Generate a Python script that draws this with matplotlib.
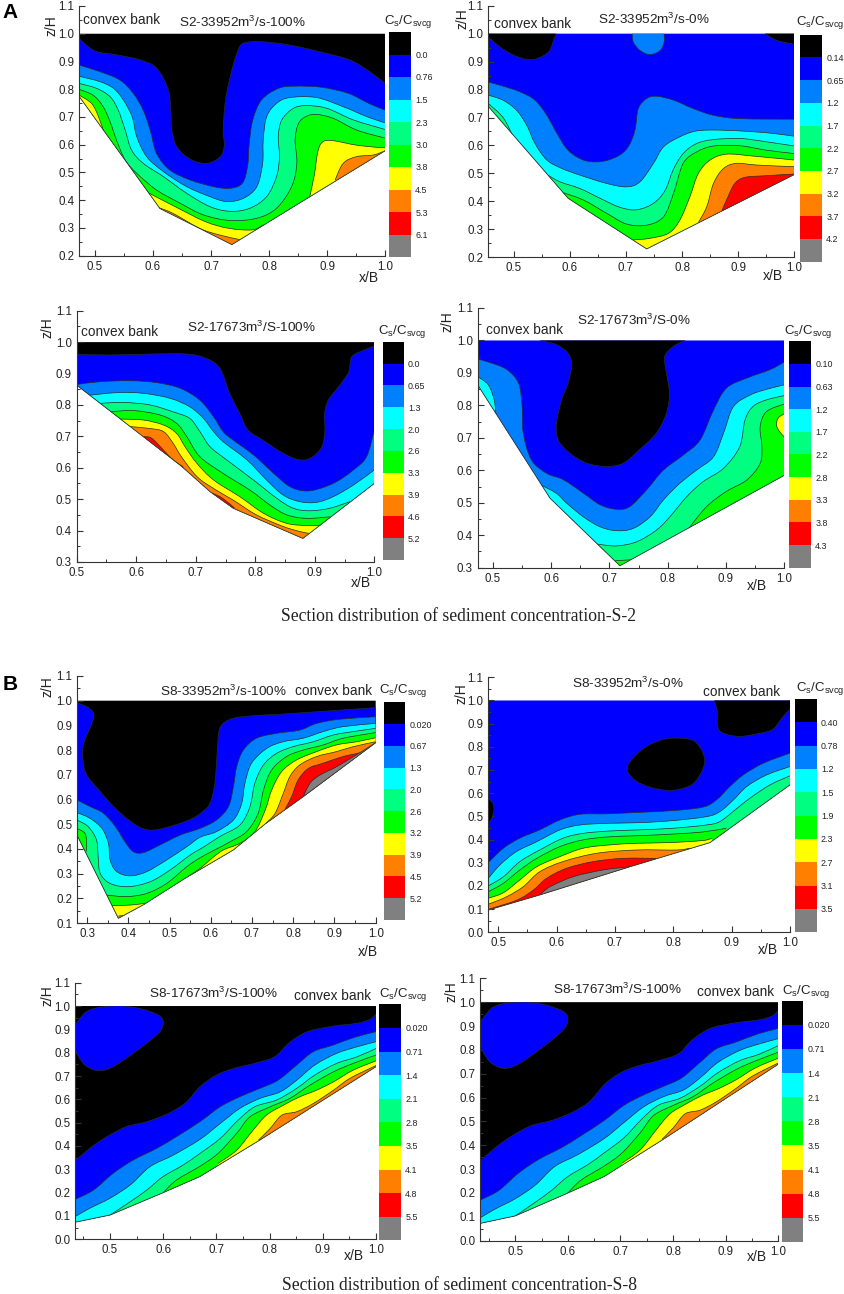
import matplotlib
matplotlib.use('Agg')
import matplotlib.pyplot as plt
from matplotlib.path import Path
from matplotlib.patches import PathPatch, Polygon
from matplotlib.ticker import MultipleLocator, FormatStrFormatter

plt.rcParams['font.family'] = ['Liberation Sans', 'DejaVu Sans']
plt.rcParams['mathtext.fontset'] = 'custom'
plt.rcParams['mathtext.rm'] = 'Liberation Sans'
plt.rcParams['mathtext.default'] = 'regular'

W, H = 844, 1294
level_colors = ['#000000', '#0000ff', '#0080ff', '#00ffff', '#00ff80',
                '#00ff00', '#ffff00', '#ff8000', '#ff0000', '#808080']

# each contour: (index of the level it bounds, side that gets filled, points in x/B, z/H)

# S2 33952 100%
a1_bed = [(.4724, .775), (.612, .37), (.736, .24), (.87, .412), (1.0, .578)]
a1_labels = ['0.0', '0.76', '1.5', '2.3', '3.0', '3.8', '4.5', '5.3', '6.1']
a1_contours = [
    (1, 'below', [(.4724, .983), (.50, .938), (.5374, .924), (.5776, .906), (.6063, .876), (.6264, .798), (.631, .714), (.632, .659), (.641, .593), (.664, .548), (.693, .533), (.716, .557), (.723, .599), (.721, .653), (.725, .76), (.736, .869), (.748, .947), (.759, .968), (.79, .971), (.836, .959), (.888, .935), (.94, .905), (.974, .863), (1.0, .821)]),
    (2, 'below', [(.4724, .887), (.509, .863), (.543, .833), (.566, .785), (.583, .725), (.595, .653), (.606, .569), (.629, .509), (.664, .473), (.704, .449), (.733, .443), (.754, .461), (.763, .521), (.766, .605), (.772, .689), (.787, .761), (.816, .803), (.845, .811), (.891, .807), (.937, .785), (.972, .749), (1.0, .725)]),
    (3, 'below', [(.4724, .847), (.509, .827), (.532, .803), (.549, .761), (.564, .701), (.572, .629), (.589, .557), (.618, .503), (.658, .449), (.698, .413), (.727, .395), (.756, .407), (.779, .449), (.789, .533), (.790, .617), (.796, .701), (.813, .749), (.836, .770), (.882, .770), (.928, .737), (.969, .701), (1.0, .679)]),
    (4, 'below', [(.4724, .821), (.503, .803), (.526, .773), (.54, .725), (.552, .653), (.563, .581), (.583, .533), (.618, .485), (.658, .425), (.698, .377), (.733, .360), (.767, .371), (.796, .413), (.813, .485), (.818, .557), (.816, .629), (.822, .689), (.842, .731), (.865, .741), (.90, .731), (.946, .689), (1.0, .655)]),
    (5, 'below', [(.4724, .80), (.497, .778), (.514, .737), (.526, .683), (.537, .617), (.552, .545), (.572, .497), (.606, .437), (.647, .389), (.687, .347), (.733, .327), (.779, .335), (.813, .371), (.839, .449), (.848, .533), (.845, .617), (.851, .677), (.865, .703), (.882, .709), (.911, .695), (.951, .653), (1.0, .624)]),
    (6, 'below', [(.4724, .779), (.494, .749), (.506, .701), (.517, .635)]),
    (6, 'below', [(.589, .430), (.638, .377), (.69, .323), (.73, .299), (.771, .293), (.79, .311)]),
    (6, 'below', [(.8695, .406), (.878, .489), (.884, .573), (.892, .609), (.909, .615), (.955, .597), (1.0, .589)]),
    (7, 'below', [(.609, .374), (.635, .352), (.681, .298), (.716, .274), (.75, .258)]),
    (7, 'below', [(.914, .473), (.928, .533), (.951, .557), (.98, .563), (1.0, .578)]),
]

# S2 33952 0%
a2_bed = [(.4547, .74), (.597, .411), (.737, .23), (1.0, .496)]
a2_labels = ['0.14', '0.65', '1.2', '1.7', '2.2', '2.7', '3.2', '3.7', '4.2']
a2_contours = [
    (0, 'above', [(.4547, .988), (.476, .952), (.5, .923), (.5237, .908), (.5416, .911), (.5623, .935), (.571, .976), (.5757, 1.0)]),
    (0, 'above', [(.948, 1.0), (.969, .976), (1.0, .962)]),
    (2, 'above', [(.711, 1.0), (.713, .970), (.725, .94), (.743, .925), (.761, .94), (.768, .97), (.768, 1.0)]),
    (2, 'below', [(.4547, .827), (.4816, .812), (.511, .792), (.538, .762), (.559, .708), (.577, .643), (.597, .583), (.624, .548), (.654, .542), (.684, .56), (.704, .595), (.716, .655), (.722, .732), (.737, .768), (.755, .776), (.785, .762), (.82, .732), (.856, .708), (.903, .696), (1.0, .694)]),
    (3, 'below', [(.4547, .780), (.481, .762), (.505, .726), (.523, .673), (.538, .607), (.559, .548), (.5855, .518), (.618, .494), (.666, .464), (.701, .452), (.725, .47), (.749, .536), (.767, .595), (.796, .631), (.826, .652), (.868, .655), (.927, .649), (.963, .643), (1.0, .633)]),
    (4, 'below', [(.4547, .75), (.481, .70), (.4994, .63)]),
    (4, 'below', [(.5558, .50), (.5825, .47), (.618, .446), (.654, .411), (.689, .379), (.719, .37), (.749, .393), (.77, .44), (.784, .512), (.802, .571), (.826, .607), (.856, .621), (.903, .625), (.951, .613), (1.0, .598)]),
    (5, 'below', [(.5825, .435), (.624, .405), (.666, .357), (.701, .319), (.737, .315), (.767, .345), (.785, .43), (.802, .536), (.826, .577), (.856, .598), (.903, .599), (.951, .583), (1.0, .571)]),
    (6, 'below', [(.713, .262), (.743, .268), (.776, .286), (.796, .333), (.814, .417), (.829, .50), (.85, .548), (.879, .569), (.927, .562), (1.0, .548)]),
    (7, 'below', [(.829, .324), (.844, .381), (.856, .464), (.874, .518), (.897, .536), (.933, .53), (1.0, .524)]),
    (8, 'below', [(.871, .367), (.882, .417), (.894, .464), (.912, .486), (.951, .492), (1.0, .498)]),
]

# S2 17673 100%
a3_bed = [(.5, .863), (.676, .605), (.724, .524), (.763, .471), (.88, .375), (1.0, .55)]
a3_labels = ['0.0', '0.65', '1.3', '2.0', '2.6', '3.3', '3.9', '4.6', '5.2']
a3_contours = [
    (1, 'below', [(.5, .961), (.556, .959), (.623, .962), (.685, .962), (.718, .948), (.741, .916), (.757, .837), (.774, .773), (.788, .72), (.813, .688), (.847, .646), (.875, .625), (.895, .633), (.912, .667), (.917, .72), (.916, .768), (.923, .816), (.94, .858), (.957, .905), (.962, .953), (.982, .974), (1.0, .987)]),
    (2, 'below', [(.5, .865), (.539, .874), (.59, .877), (.634, .871), (.674, .853), (.707, .815), (.73, .762), (.746, .715), (.763, .688), (.797, .641), (.831, .582), (.858, .54), (.884, .526), (.909, .534), (.937, .556), (.965, .593), (.987, .635), (1.0, .72)]),
    (3, 'below', [(.522, .831), (.567, .839), (.612, .837), (.657, .821), (.69, .794), (.713, .757), (.73, .715), (.746, .683), (.786, .625), (.819, .561), (.847, .513), (.875, .492), (.903, .49), (.931, .508), (.965, .545), (1.0, .593)]),
    (4, 'below', [(.539, .805), (.578, .808), (.623, .80), (.662, .778), (.69, .757), (.707, .715), (.724, .667), (.752, .625), (.797, .561), (.836, .503), (.864, .471), (.892, .463), (.925, .471), (.959, .492)]),
    (5, 'below', [(.556, .778), (.595, .782), (.64, .768), (.668, .741), (.685, .699), (.707, .635), (.746, .582), (.791, .529), (.825, .481), (.853, .45), (.886, .439), (.926, .444)]),
    (6, 'below', [(.573, .755), (.612, .752), (.646, .736), (.668, .709), (.682, .667), (.702, .614), (.73, .561), (.774, .508), (.814, .455), (.853, .423), (.888, .416), (.909, .417)]),
    (7, 'below', [(.59, .731), (.623, .725), (.646, .715), (.662, .678), (.676, .635), (.702, .572), (.73, .534), (.763, .497), (.802, .45), (.847, .413), (.875, .397), (.891, .391)]),
    (8, 'below', [(.612, .699), (.626, .694), (.646, .656), (.662, .625), (.679, .603)]),
    (8, 'below', [(.727, .52), (.745, .503), (.765, .472)]),
]

# S2 17673 0%
a4_bed = [(.4737, .863), (.598, .514), (.718, .306), (1.0, .584)]
a4_labels = ['0.10', '0.63', '1.2', '1.7', '2.2', '2.8', '3.3', '3.8', '4.3']
a4_contours = [
    (0, 'above', [(.581, 1.0), (.609, .987), (.629, .961), (.635, .925), (.629, .868), (.618, .817), (.609, .745), (.612, .694), (.632, .653), (.661, .622), (.695, .612), (.724, .622), (.752, .664), (.781, .715), (.798, .776), (.803, .838), (.797, .91), (.795, .951), (.81, .982), (.83, 1.0)]),
    (2, 'below', [(.4737, .943), (.498, .93), (.524, .91), (.544, .868), (.55, .797), (.552, .714), (.566, .632), (.592, .591), (.621, .571), (.655, .53), (.684, .494), (.712, .48), (.735, .488), (.764, .54), (.793, .601), (.827, .647), (.856, .694), (.879, .786), (.901, .853), (.936, .884), (.976, .91), (1.0, .933)]),
    (3, 'below', [(.4737, .889), (.492, .863), (.502, .817), (.505, .771)]),
    (3, 'below', [(.582, .555), (.609, .529), (.627, .498), (.655, .457), (.684, .426), (.712, .414), (.741, .421), (.77, .457), (.793, .509), (.821, .56), (.85, .601), (.879, .642), (.896, .714), (.913, .796), (.942, .832), (.971, .85), (1.0, .863)]),
    (4, 'below', [(.678, .373), (.712, .367), (.747, .38), (.781, .416), (.804, .457), (.833, .519), (.861, .565), (.896, .606), (.924, .673), (.933, .755), (.947, .797), (.97, .817), (1.0, .83)]),
    (5, 'below', [(.71, .322), (.725, .323), (.738, .325)]),
    (5, 'below', [(.835, .418), (.867, .488), (.901, .535), (.936, .57), (.959, .621), (.962, .673), (.959, .734), (.97, .781), (1.0, .804)]),
    (6, 'blob', [(1.0, .774), (.99, .761), (.987, .74), (.992, .72), (1.0, .704)]),
]

# S8 33952 100%
b1_bed = [(.2757, .456), (.376, .119), (.438, .175), (.538, .281), (.655, .396), (.732, .501), (.824, .611), (1.0, .83)]
b1_labels = ['0.020', '0.67', '1.3', '2.0', '2.6', '3.2', '3.9', '4.5', '5.2']
b1_contours = [
    (1, 'below', [(.2757, .992), (.3, .975), (.316, .949), (.312, .908), (.295, .841), (.289, .787), (.297, .706), (.329, .638), (.365, .571), (.401, .517), (.434, .483), (.466, .477), (.514, .497), (.555, .523), (.578, .548), (.598, .584), (.61, .666), (.616, .80), (.622, .888), (.647, .925), (.695, .938), (.776, .946), (.897, .96), (1.0, .972)]),
    (2, 'below', [(.2757, .598), (.308, .571), (.34, .544), (.369, .49), (.392, .429), (.412, .389), (.437, .385), (.477, .416), (.526, .456), (.574, .483), (.614, .517), (.643, .571), (.655, .652), (.663, .733), (.679, .80), (.711, .848), (.76, .868), (.816, .881), (.857, .908), (.913, .925), (1.0, .935)]),
    (3, 'below', [(.2757, .547), (.307, .524), (.336, .483), (.352, .422), (.356, .355), (.372, .308), (.405, .291), (.445, .308), (.493, .355), (.542, .409), (.574, .447), (.614, .47), (.655, .517), (.675, .584), (.683, .666), (.699, .747), (.736, .807), (.776, .834), (.824, .848), (.873, .875), (.921, .895), (1.0, .908)]),
    (4, 'below', [(.2757, .517), (.303, .49), (.323, .436), (.327, .368), (.332, .301), (.356, .26), (.4, .247), (.453, .267), (.501, .314), (.55, .375), (.585, .41), (.622, .45), (.671, .497), (.695, .571), (.707, .666), (.728, .74), (.76, .787), (.80, .814), (.849, .834), (.897, .861), (.946, .875), (1.0, .888)]),
    (5, 'below', [(.2757, .483), (.295, .463), (.299, .423), (.298, .389)]),
    (5, 'below', [(.348, .213), (.396, .207), (.445, .22), (.493, .26), (.542, .328), (.575, .365), (.61, .396), (.647, .429), (.687, .47), (.715, .544), (.728, .639), (.748, .72), (.784, .774), (.824, .80), (.873, .821), (.921, .848), (1.0, .871)]),
    (6, 'below', [(.36, .17), (.408, .173), (.441, .18)]),
    (6, 'below', [(.538, .281), (.574, .321), (.605, .365), (.631, .396), (.671, .423), (.707, .47), (.732, .557), (.748, .639), (.772, .713), (.808, .76), (.857, .794), (.905, .821), (.954, .834), (1.0, .85)]),
    (7, 'below', [(.376, .128), (.396, .132)]),
    (7, 'below', [(.732, .501), (.756, .544), (.776, .625), (.792, .693), (.816, .74), (.857, .774), (.905, .794), (.946, .814), (1.0, .834)]),
    (8, 'below', [(.78, .56), (.796, .611), (.812, .679), (.837, .726), (.873, .747), (.921, .774), (.97, .794), (1.0, .83)]),
    (9, 'below', [(.824, .611), (.841, .666), (.865, .699), (.913, .74), (1.0, .83)]),
]

# S8 33952 0%
b2_bed = [(.4829, .096), (.571, .161), (.726, .283), (.863, .387), (1.0, .636)]
b2_labels = ['0.40', '0.78', '1.2', '1.5', '1.9', '2.3', '2.7', '3.1', '3.5']
b2_contours = [
    (0, 'above', [(.87, 1.0), (.875, .96), (.876, .888), (.886, .859), (.914, .845), (.949, .859), (.971, .876), (.986, .924), (1.0, .963)]),
    (0, 'blob', [(.721, .703), (.731, .751), (.754, .801), (.783, .832), (.814, .837), (.837, .823), (.851, .772), (.853, .722), (.84, .657), (.823, .626), (.794, .612), (.76, .626), (.734, .657), (.721, .703)]),
    (0, 'blob', [(.4829, .578), (.4906, .557), (.4926, .528), (.489, .492), (.4829, .47)]),
    (2, 'below', [(.4829, .301), (.509, .363), (.537, .406), (.571, .442), (.606, .485), (.64, .509), (.686, .511), (.737, .517), (.80, .525), (.851, .54), (.874, .571), (.897, .629), (.92, .679), (.954, .729), (1.0, .773)]),
    (3, 'below', [(.4829, .233), (.503, .291), (.531, .348), (.566, .391), (.606, .442), (.64, .463), (.686, .47), (.743, .473), (.80, .482), (.857, .499), (.88, .521), (.903, .571), (.926, .629), (.96, .679), (1.0, .715)]),
    (4, 'below', [(.4829, .2), (.509, .24), (.537, .305), (.571, .355), (.611, .406), (.646, .427), (.691, .437), (.743, .442), (.80, .449), (.857, .463), (.88, .478), (.906, .528), (.931, .578), (.966, .636), (1.0, .675)]),
    (5, 'below', [(.4829, .175), (.509, .212), (.537, .269), (.566, .319), (.606, .37), (.646, .399), (.691, .412), (.743, .417), (.80, .424), (.851, .433), (.891, .449)]),
    (6, 'below', [(.4829, .147), (.509, .171), (.537, .226), (.566, .283), (.606, .327), (.646, .363), (.691, .377), (.737, .384), (.794, .387), (.851, .396), (.866, .406)]),
    (7, 'below', [(.4829, .121), (.514, .153), (.543, .197), (.571, .261), (.611, .305), (.669, .341), (.737, .355), (.806, .355), (.829, .363)]),
    (8, 'below', [(.4829, .099), (.532, .139), (.56, .182), (.583, .233), (.617, .276), (.663, .305), (.714, .319), (.771, .319)]),
    (9, 'below', [(.571, .161), (.589, .197), (.629, .24), (.68, .269), (.726, .283)]),
]

# S8 17673 100%, the two lower panels show the same section
b3_bed = [(.4342, .073), (.5, .104), (.6, .2), (.669, .269), (.782, .426), (1.0, .74)]
b3_labels = ['0.020', '0.71', '1.4', '2.1', '2.8', '3.5', '4.1', '4.8', '5.5']
b3_contours = [
    (1, 'below', [(.4342, .336), (.462, .39), (.494, .44), (.531, .483), (.569, .504), (.607, .537), (.641, .583), (.669, .654), (.70, .704), (.732, .732), (.776, .757), (.81, .783), (.832, .833), (.851, .866), (.876, .894), (.92, .914), (.964, .926), (.989, .943), (1.0, .966)]),
    (1, 'blob', [(.4342, .919), (.456, .976), (.487, .997), (.525, 1.0), (.562, .986), (.591, .961), (.6, .933), (.594, .89), (.569, .84), (.531, .776), (.5, .733), (.475, .723), (.453, .747), (.439, .79), (.4342, .819)]),
    (2, 'below', [(.4342, .171), (.469, .211), (.506, .283), (.544, .34), (.588, .39), (.625, .44), (.669, .504), (.707, .568), (.744, .611), (.782, .647), (.816, .682), (.851, .747), (.882, .804), (.92, .833), (.96, .866), (1.0, .89)]),
    (3, 'below', [(.4342, .097), (.462, .133), (.5, .176), (.538, .233), (.575, .311), (.619, .361), (.669, .428), (.707, .496), (.744, .561), (.782, .604), (.82, .632), (.851, .682), (.885, .747), (.926, .797), (.964, .825), (1.0, .847)]),
    (4, 'below', [(.5, .104), (.538, .161), (.569, .211), (.6, .269), (.638, .319), (.669, .368), (.707, .432), (.741, .511), (.772, .568), (.813, .597), (.851, .647), (.885, .704), (.926, .754), (.964, .782), (1.0, .818)]),
    (5, 'below', [(.6, .2), (.625, .254), (.669, .313), (.703, .368), (.738, .454), (.763, .525), (.801, .568), (.838, .604), (.876, .661), (.92, .718), (.957, .754), (1.0, .79)]),
    (6, 'below', [(.703, .325), (.738, .382), (.769, .468), (.794, .532), (.826, .575), (.857, .611), (.888, .639), (.92, .675), (.957, .725), (1.0, .765)]),
    (7, 'below', [(.779, .425), (.801, .475), (.823, .532), (.851, .547), (.882, .582), (.92, .639), (.951, .69), (1.0, .745)]),
]

# layout in pixels of the reference: axes left, x=1.0, top tick, bottom, then colour bar box
panels = [
    dict(bed=a1_bed, contours=a1_contours, labels=a1_labels, base=0, xlim=.4724, ymin=.2,
         ax=(79, 385, 6, 255.7), cb=(389, 411, 32, 257),
         title='S2-33952m$^{3}$/s-100%', title_at=(242, 22), bank_at=(122, 20),
         xlab=(369, 278), zlab=(51, 26), cbt=(408, 21)),
    dict(bed=a2_bed, contours=a2_contours, labels=a2_labels, base=1, xlim=.4547, ymin=.2,
         ax=(488.3, 794.3, 5.7, 257.3), cb=(800.3, 822, 34.7, 261.7),
         title='S2-33952m$^{3}$/s-0%', title_at=(654, 19), bank_at=(533, 24),
         xlab=(773, 276), zlab=(462, 19), cbt=(820, 22)),
    dict(bed=a3_bed, contours=a3_contours, labels=a3_labels, base=0, xlim=.5, ymin=.3,
         ax=(76.7, 374.3, 310.7, 562), cb=(382.7, 403.7, 341.7, 560),
         title='S2-17673m$^{3}$/S-100%', title_at=(251, 327), bank_at=(120, 332),
         xlab=(361, 583), zlab=(48, 328), cbt=(402, 332)),
    dict(bed=a4_bed, contours=a4_contours, labels=a4_labels, base=1, xlim=.4737, ymin=.3,
         ax=(477.7, 784, 308, 567.7), cb=(789.3, 811, 341.3, 567.7),
         title='S2-17673m$^{3}$/S-0%', title_at=(634, 320), bank_at=(525, 330),
         xlab=(757, 586), zlab=(447, 322), cbt=(808, 332)),
    dict(bed=b1_bed, contours=b1_contours, labels=b1_labels, base=0, xlim=.2757, ymin=.1,
         ax=(77, 375.7, 676, 923), cb=(384, 405.3, 702.3, 920),
         title='S8-33952m$^{3}$/s-100%', title_at=(223, 691), bank_at=(334, 691),
         xlab=(368, 952), zlab=(48, 687), cbt=(403, 691)),
    dict(bed=b2_bed, contours=b2_contours, labels=b2_labels, base=1, xlim=.4829, ymin=0,
         ax=(488.3, 790, 677.3, 932.3), cb=(795.3, 816.7, 699, 932.3),
         title='S8-33952m$^{3}$/s-0%', title_at=(628, 683), bank_at=(742, 692),
         xlab=(768, 950), zlab=(461, 694), cbt=(820, 688)),
    dict(bed=b3_bed, contours=b3_contours, labels=b3_labels, base=0, xlim=.4342, ymin=0,
         ax=(75, 376, 982.7, 1239.3), cb=(379.3, 401, 1004.3, 1240.3),
         title='S8-17673m$^{3}$/S-100%', title_at=(213, 993), bank_at=(333, 996),
         xlab=(354, 1256), zlab=(47, 996), cbt=(403, 994)),
    dict(bed=b3_bed, contours=b3_contours, labels=b3_labels, base=0, xlim=.4329, ymin=0,
         ax=(480, 778.3, 978.3, 1240.7), cb=(782, 803.3, 1000.7, 1242),
         title='S8-17673m$^{3}$/S-100%', title_at=(617, 989), bank_at=(736, 992),
         xlab=(757, 1257), zlab=(452, 992), cbt=(806, 991)),
]


def smooth_segments(pts, closed=False):
    """Catmull-Rom through the read points, returned as bezier vertices and codes."""
    n = len(pts)
    verts = [pts[0]]
    codes = [Path.MOVETO]
    for i in range(n - 1):
        if closed:
            p0 = pts[(i - 1) % (n - 1)]
            p3 = pts[(i + 2) % (n - 1)]
        else:
            p0 = pts[max(i - 1, 0)]
            p3 = pts[min(i + 2, n - 1)]
        p1, p2 = pts[i], pts[i + 1]
        verts += [(p1[0] + (p2[0] - p0[0]) / 6, p1[1] + (p2[1] - p0[1]) / 6),
                  (p2[0] - (p3[0] - p1[0]) / 6, p2[1] - (p3[1] - p1[1]) / 6),
                  p2]
        codes += [Path.CURVE4] * 3
    return verts, codes


def draw_panel(fig, p):
    l, r, t, b = p['ax']
    ax = fig.add_axes([l / W, 1 - b / H, (r - l) / W, (b - t) / H])
    ax.set_xlim(p['xlim'], 1.0)
    ax.set_ylim(p['ymin'], 1.1)
    ax.spines['top'].set_visible(False)
    ax.spines['right'].set_visible(False)
    for side in ['left', 'bottom']:
        ax.spines[side].set_linewidth(0.8)
        ax.spines[side].set_color('#333333')
    ax.xaxis.set_major_locator(MultipleLocator(0.1))
    ax.xaxis.set_minor_locator(MultipleLocator(0.05))
    ax.yaxis.set_major_locator(MultipleLocator(0.1))
    ax.yaxis.set_minor_locator(MultipleLocator(0.05))
    ax.xaxis.set_major_formatter(FormatStrFormatter('%.1f'))
    ax.yaxis.set_major_formatter(FormatStrFormatter('%.1f'))
    ax.tick_params(which='major', direction='in', length=4, width=0.8, labelsize=8.3,
                   color='#333333', labelcolor='#222222', pad=3.5)
    ax.tick_params(which='minor', direction='in', length=2.2, width=0.7, color='#333333')

    # wetted section, everything else gets clipped to it
    outline = [(p['xlim'], 1.0), (1.0, 1.0)] + p['bed'][::-1]
    section = Polygon(outline, closed=True, facecolor=level_colors[p['base']],
                      edgecolor='none', zorder=1)
    ax.add_patch(section)

    for order, (level, side, pts) in enumerate(p['contours']):
        closed = side == 'blob' and pts[0] == pts[-1]
        verts, codes = smooth_segments(pts, closed)
        if side == 'below':
            extra = [(pts[-1][0], -1), (pts[0][0], -1), pts[0]]
        elif side == 'above':
            extra = [(pts[-1][0], 2), (pts[0][0], 2), pts[0]]
        else:
            extra = [pts[0]]
        fill = Path(verts + extra, codes + [Path.LINETO] * len(extra))
        patch = PathPatch(fill, facecolor=level_colors[level], edgecolor='none',
                          zorder=2 + order * 0.01)
        ax.add_patch(patch)
        patch.set_clip_path(section)
        line = PathPatch(Path(verts, codes), facecolor='none', edgecolor='#2a2a2a',
                         linewidth=0.5, zorder=2 + order * 0.01 + 0.005)
        ax.add_patch(line)
        line.set_clip_path(section)

    bx = [q[0] for q in p['bed']]
    bz = [q[1] for q in p['bed']]
    ax.plot(bx, bz, color='#333333', lw=0.6, zorder=5)

    # colour bar, black on top
    cl, cr, ct, cb = p['cb']
    cax = fig.add_axes([cl / W, 1 - cb / H, (cr - cl) / W, (cb - ct) / H])
    rows = list(range(len(level_colors)))
    cax.barh([9.5 - i for i in rows], [1] * len(rows), height=1.0, color=level_colors,
             edgecolor='none')
    cax.set_xlim(0, 1)
    cax.set_ylim(0, 10)
    cax.set_xticks([])
    cax.yaxis.tick_right()
    cax.set_yticks([9 - i for i in range(len(p['labels']))])
    cax.set_yticklabels(p['labels'])
    cax.tick_params(axis='y', length=0, labelsize=6.4, pad=3, labelcolor='#222222')
    for s in cax.spines.values():
        s.set_visible(False)

    def put(at, s, **kw):
        fig.text(at[0] / W, 1 - at[1] / H, s, ha='center', va='center', color='#222222', **kw)

    put(p['title_at'], p['title'], fontsize=9.7)
    put(p['bank_at'], 'convex bank', fontsize=9.8)
    put(p['xlab'], 'x/B', fontsize=10)
    put(p['zlab'], 'z/H', fontsize=10, rotation=90)
    put(p['cbt'], 'C$_{s}$/C$_{svcg}$', fontsize=9.5)


fig = plt.figure(figsize=(W / 100, H / 100), dpi=100)
for panel in panels:
    draw_panel(fig, panel)

fig.text(2 / W, 1 - 12 / H, 'A', fontsize=15, fontweight='bold', va='center')
fig.text(3 / W, 1 - 685 / H, 'B', fontsize=15, fontweight='bold', va='center')
fig.text(459 / W, 1 - 617 / H, 'Section distribution of sediment concentration-S-2',
         ha='center', va='center', family=['Liberation Serif'], fontsize=12.7, color='#222222')
fig.text(460 / W, 1 - 1285 / H, 'Section distribution of sediment concentration-S-8',
         ha='center', va='center', family=['Liberation Serif'], fontsize=12.7, color='#222222')

fig.savefig('out.png', dpi=100)
